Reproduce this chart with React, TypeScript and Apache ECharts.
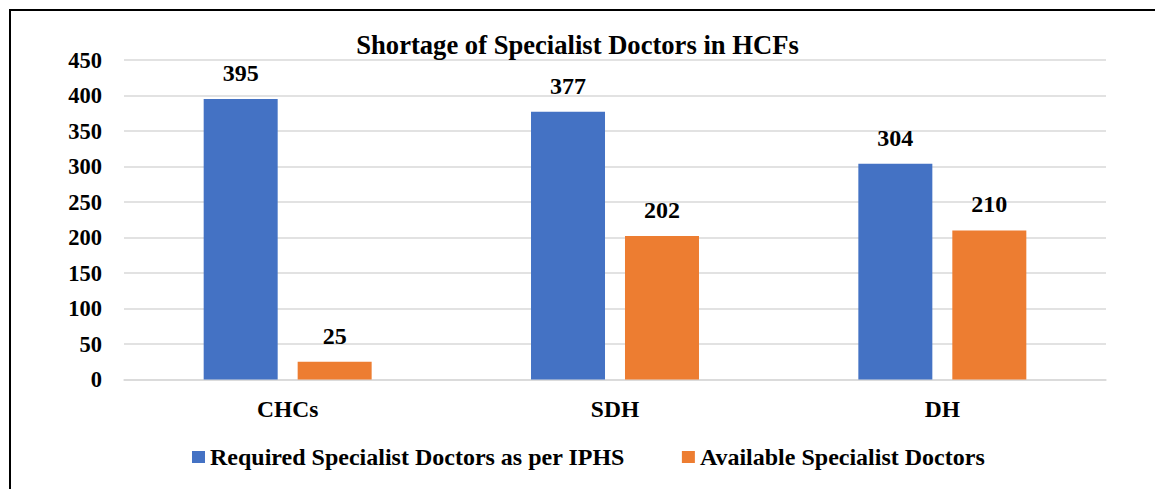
import React, { useEffect, useRef } from "react";
import * as echarts from "echarts";

const categories = ["CHCs", "SDH", "DH"];
const seriesNames = ["Required Specialist Doctors as per IPHS", "Available Specialist Doctors"];
const requiredValues = [395, 377, 304];
const availableValues = [25, 202, 210];
const titleText = "Shortage of Specialist Doctors in HCFs";

const FONT = "'Liberation Serif', 'Times New Roman', serif";

export default function App() {
  const ref = useRef<HTMLDivElement>(null);
  useEffect(() => {
    if (!ref.current) return;
    const chart = echarts.init(ref.current, undefined, { renderer: "svg" });
    const labelStyle = {
      show: true,
      position: "top" as const,
      distance: 14,
      fontFamily: FONT,
      fontWeight: "bold" as const,
      fontSize: 24,
      color: "#000",
    };
    chart.setOption({
      animation: false,
      backgroundColor: "#fff",
      title: {
        text: titleText,
        left: "center",
        top: 26,
        textStyle: { fontFamily: FONT, fontWeight: "bold", fontSize: 26.6, color: "#000" },
      },
      legend: {
        bottom: 15,
        left: 187,
        itemWidth: 13,
        itemHeight: 12,
        itemGap: 57,
        icon: "rect",
        textStyle: { fontFamily: FONT, fontWeight: "bold", fontSize: 24, color: "#000" },
        data: seriesNames,
      },
      grid: { left: 124, right: 49, top: 60, bottom: 109.5, containLabel: false },
      xAxis: {
        type: "category",
        data: categories,
        axisLine: { show: true, lineStyle: { color: "#d9d9d9", width: 1.5 } },
        axisTick: { show: false },
        axisLabel: {
          margin: 17,
          fontFamily: FONT,
          fontWeight: "bold",
          fontSize: 23.5,
          color: "#000",
        },
      },
      yAxis: {
        type: "value",
        min: 0,
        max: 450,
        interval: 50,
        axisLine: { show: false },
        axisTick: { show: false },
        splitLine: { lineStyle: { color: "#d9d9d9", width: 1.5 } },
        axisLabel: {
          margin: 22,
          fontFamily: FONT,
          fontWeight: "bold",
          fontSize: 22.5,
          color: "#000",
        },
      },
      series: [
        {
          name: seriesNames[0],
          type: "bar",
          data: requiredValues,
          barWidth: 74,
          barGap: "27%",
          itemStyle: { color: "#4472C4" },
          label: labelStyle,
        },
        {
          name: seriesNames[1],
          type: "bar",
          data: availableValues,
          barWidth: 74,
          barGap: "27%",
          itemStyle: { color: "#ED7D31" },
          label: labelStyle,
        },
      ],
      graphic: [
        {
          type: "rect",
          silent: true,
          shape: { x: 10, y: 10, width: 3000, height: 3000 },
          style: { fill: "none", stroke: "#000", lineWidth: 2 },
        },
      ],
    });
    return () => chart.dispose();
  }, []);
  return (
    <div
      ref={ref}
      style={{ position: "absolute", left: 0, top: 0, width: 1155, height: 489 }}
    />
  );
}
